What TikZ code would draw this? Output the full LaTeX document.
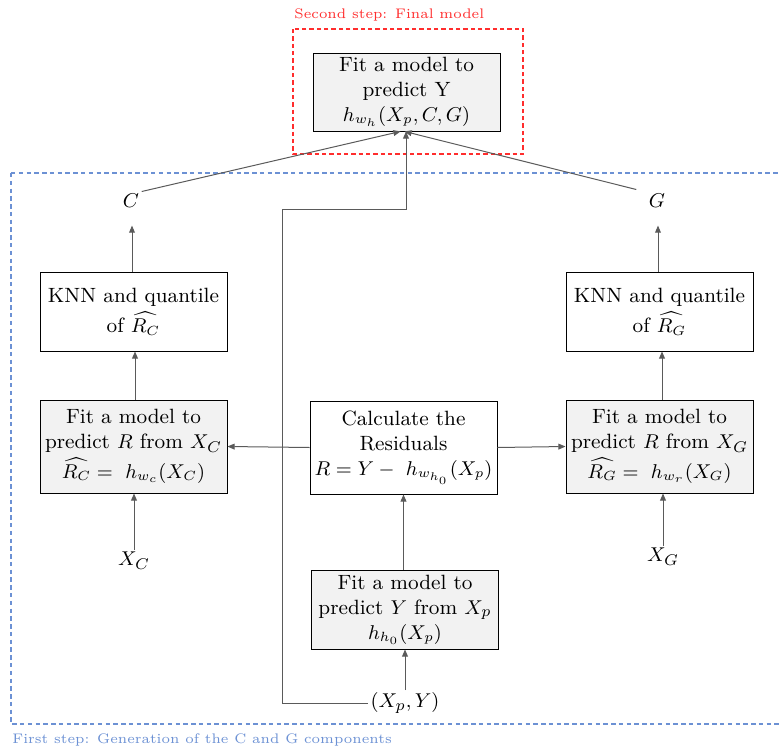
\documentclass[tikz,border=0pt]{standalone}
\usetikzlibrary{arrows.meta,calc}
\definecolor{boxgray}{RGB}{242,242,242}
\definecolor{stepred}{RGB}{255,45,45}
\definecolor{stepblue}{RGB}{108,145,212}
\definecolor{linegray}{RGB}{90,90,90}
\newcommand{\fml}[1]{{\fontsize{8.8}{11.3}\selectfont$#1$}}
\begin{document}
\begin{tikzpicture}[x=0.45pt,y=-0.45pt,
  box/.style={draw=black,line width=0.4pt,align=center,inner sep=1pt,
    minimum width=187*0.45pt,font=\fontsize{9.3}{11.3}\selectfont},
  fitbox/.style={box,fill=boxgray},
  lbl/.style={inner sep=1pt,font=\fontsize{9.5}{11}\selectfont},
  conn/.style={draw=linegray,line width=0.45pt,-{Triangle[length=3.2pt,width=2.6pt]}},
  steplbl/.style={anchor=west,inner sep=0pt,font=\fontsize{6.25}{8}\selectfont}]
\useasboundingbox (0,0) rectangle (779,749);
% frames
\draw[stepred,dash pattern=on 2pt off 1.3pt,line width=0.5pt] (293,29) rectangle (523,154);
\node[steplbl,text=stepred] (lsecond) at (294,15) {Second step: Final model};
\draw[stepblue,dash pattern=on 2pt off 1.5pt,line width=0.5pt] (11,173) -- (785,173) (11,173) -- (11,724) -- (785,724);
\node[steplbl,text=stepblue] (lfirst) at (12,740) {First step: Generation of the C and G components};
% nodes
\node[fitbox,minimum height=78*0.45pt] (top) at (406.5,92) {Fit a model to\\predict Y\\\fml{h_{w_h}(X_p,C,G)}};
\node[lbl] (c) at (131,201) {$C$};
\node[lbl] (g) at (657,201) {$G$};
\node[box,minimum height=79*0.45pt] (knnl) at (133.5,311.5) {KNN and quantile\\[2.5pt]of \fml{\widehat{R_C}}};
\node[box,minimum height=79*0.45pt] (knnr) at (659.5,311.5) {KNN and quantile\\[2.5pt]of \fml{\widehat{R_G}}};
\node[fitbox,minimum height=93*0.45pt] (fitl) at (133.5,446.5) {Fit a model to\\predict $R$ from $X_C$\\[2pt]\fml{\widehat{R_C} =\ h_{w_c}(X_C)}};
\node[box,minimum height=93*0.45pt] (calc) at (403.5,447.5) {Calculate the\\Residuals\\\fml{R = Y -\ h_{w_{h_0}}(X_p)}};
\node[fitbox,minimum height=93*0.45pt] (fitr) at (659.5,446.5) {Fit a model to\\predict $R$ from $X_G$\\[2pt]\fml{\widehat{R_G} =\ h_{w_r}(X_G)}};
\node[fitbox,minimum height=79*0.45pt] (fitb) at (405,609.5) {Fit a model to\\predict $Y$ from $X_p$\\\fml{h_{h_0}(X_p)}};
\node[lbl] (xc) at (134,561) {$X_C$};
\node[lbl] (xg) at (663,557) {$X_G$};
\node[lbl] (xpy) at (405,703) {$(X_p,Y)$};
\coordinate (p1) at (282,703);
\coordinate (p2) at (282,209);
\coordinate (p3) at (406,209);
% connectors
\draw[conn] (xc.north) -- (xc.north |- fitl.south);
\draw[conn] ($(fitl.north)+(1.5,0)$) -- ($(knnl.south)+(1.5,0)$);
\draw[conn] ($(knnl.north)+(-1.5,0)$) -- ($(knnl.north)+(-1.5,-46)$);
\draw[conn] (xg.north) -- (xg.north |- fitr.south);
\draw[conn] ($(fitr.north)+(2.5,0)$) -- ($(knnr.south)+(2.5,0)$);
\draw[conn] ($(knnr.north)+(-1.5,0)$) -- ($(knnr.north)+(-1.5,-46)$);
\draw[conn] (calc.west) -- (fitl.east);
\draw[conn] (calc.east) -- (fitr.east -| fitr.west);
\draw[conn] (fitb.north -| calc.south) -- (calc.south);
\draw[conn] (xpy.north) -- (xpy.north |- fitb.south);
\draw[conn] (c.north east) -- ($(top.south)+(-6,0)$);
\draw[conn] ($(g.north west)+(-10,-2)$) -- ($(top.south)+(-2,0)$);
\draw[conn] (xpy.west) -- (p1) -- (p2) -- (p3) -- (p3 |- top.south);
\end{tikzpicture}
\end{document}
